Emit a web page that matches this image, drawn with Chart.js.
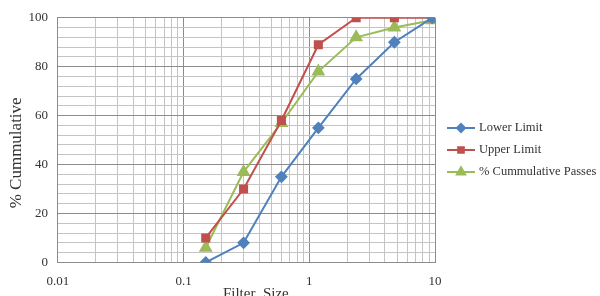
<!DOCTYPE html>
<html>
<head>
<meta charset="utf-8">
<script src="https://cdn.jsdelivr.net/npm/chart.js@4"></script>
<style>
  html, body { margin: 0; padding: 0; background: #fff; }
  #wrap { width: 600px; height: 296px; }
</style>
</head>
<body>
<div id="wrap"><canvas id="c" width="600" height="296"></canvas></div>
<script>
// sieve sizes (mm) and percent passing
const sizes = [0.15, 0.3, 0.6, 1.18, 2.36, 4.75, 9.5];
const lowerLimit = [0, 8, 35, 55, 75, 90, 100];
const upperLimit = [10, 30, 58, 89, 100, 100, 100];
const passes = [6, 37, 57, 78, 92, 96, 99];
const seriesNames = ['Lower Limit', 'Upper Limit', '% Cummulative Passes'];
const xTickLabels = [0.01, 0.1, 1, 10];

const FONT = '"Liberation Serif", "DejaVu Serif", serif';

const toPoints = ys => sizes.map((x, i) => ({ x: x, y: ys[i] }));

function series(label, ys, color, style, radius) {
  return {
    label: label,
    data: toPoints(ys),
    borderColor: color,
    backgroundColor: color,
    borderWidth: 2,
    pointStyle: style,
    pointRadius: radius,
    pointHoverRadius: radius,
    tension: 0
  };
}

// custom legend: line with marker, like the spreadsheet version
const sideLegend = {
  id: 'sideLegend',
  afterDraw(chart) {
    const ctx = chart.ctx;
    const x0 = chart.chartArea.right + 12;
    const startY = 128;
    ctx.save();
    chart.data.datasets.forEach((ds, i) => {
      const y = startY + i * 22;
      ctx.strokeStyle = ds.borderColor;
      ctx.lineWidth = 2;
      ctx.beginPath();
      ctx.moveTo(x0, y);
      ctx.lineTo(x0 + 28, y);
      ctx.stroke();
      Chart.helpers.drawPoint(ctx, {
        pointStyle: ds.pointStyle,
        radius: ds.pointRadius * 0.8,
        rotation: 0,
        borderWidth: 1
      }, x0 + 14, y);
      ctx.fillStyle = ds.borderColor;
      ctx.fill();
      ctx.fillStyle = '#333';
      ctx.font = '12.5px ' + FONT;
      ctx.textBaseline = 'middle';
      ctx.textAlign = 'left';
      ctx.fillText(ds.label, x0 + 32, y);
    });
    ctx.restore();
  }
};

new Chart(document.getElementById('c'), {
  type: 'line',
  data: {
    datasets: [
      series(seriesNames[0], lowerLimit, '#4F81BD', 'rectRot', 5),
      series(seriesNames[1], upperLimit, '#C0504D', 'rect', 5),
      series(seriesNames[2], passes, '#9BBB59', 'triangle', 6)
    ]
  },
  options: {
    responsive: false,
    animation: false,
    layout: { padding: { left: 2, right: 165, top: 15, bottom: -7 } },
    plugins: {
      legend: { display: false },
      tooltip: { enabled: false }
    },
    scales: {
      x: {
        type: 'logarithmic',
        min: 0.01,
        max: 10,
        afterBuildTicks(scale) {
          const t = [];
          for (let e = -2; e <= 0; e++) {
            for (let s = 1; s <= 9; s++) t.push({ value: +(s * Math.pow(10, e)).toPrecision(3) });
          }
          t.push({ value: 10 });
          scale.ticks = t;
        },
        ticks: {
          autoSkip: false,
          maxRotation: 0,
          padding: 11,
          color: '#333',
          font: { family: FONT, size: 13 },
          callback: v => xTickLabels.includes(v) ? String(v) : ''
        },
        grid: {
          color: c => (c.tick && xTickLabels.includes(c.tick.value)) ? '#8c8c8c' : '#c4c4c4',
          lineWidth: 1,
          drawTicks: false
        },
        border: { color: '#8c8c8c' },
        title: {
          display: true,
          text: '     Filter  Size',
          color: '#333',
          font: { family: FONT, size: 15 },
          padding: { top: -15, bottom: 0 }
        }
      },
      y: {
        min: 0,
        max: 100,
        ticks: {
          stepSize: 4,
          autoSkip: false,
          padding: 10,
          color: '#333',
          font: { family: FONT, size: 13 },
          callback: v => v % 20 === 0 ? String(v) : ''
        },
        grid: {
          color: c => (c.tick && c.tick.value % 20 === 0) ? '#8c8c8c' : '#c4c4c4',
          lineWidth: 1,
          drawTicks: false
        },
        border: { color: '#8c8c8c' },
        title: {
          display: true,
          text: '% Cummulative      ',
          color: '#333',
          font: { family: FONT, size: 17 },
          padding: { top: 4, bottom: -8 }
        }
      }
    }
  },
  plugins: [sideLegend]
});
</script>
</body>
</html>
